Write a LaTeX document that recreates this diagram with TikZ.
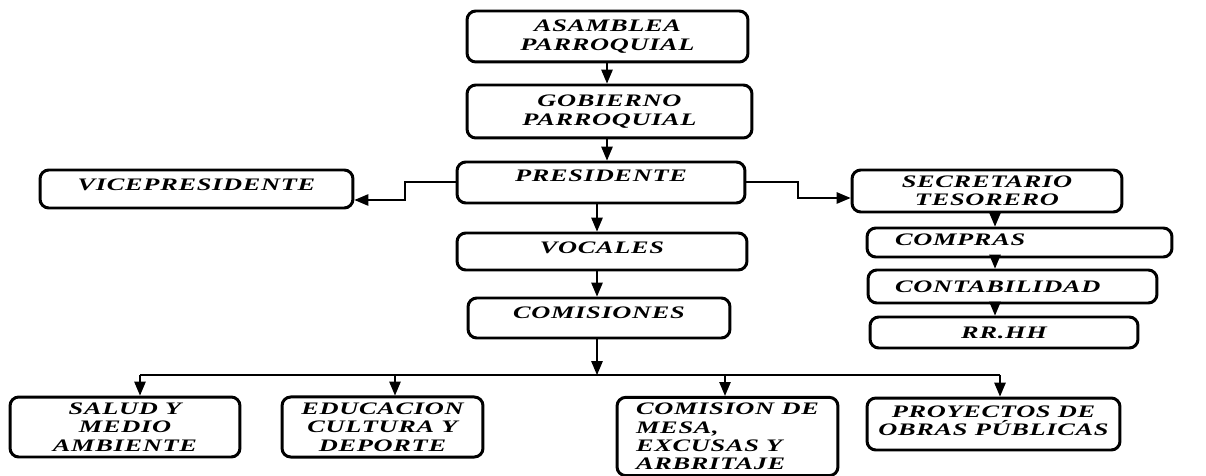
\documentclass[tikz,border=0pt]{standalone}
\usepackage{fontspec}
\setmainfont{Liberation Serif}
\newfontfamily\cajafont[FakeStretch=1.5,LetterSpace=4]{Liberation Serif}
\usetikzlibrary{arrows}

\tikzset{
	caja/.style={draw, line width=1.7pt, rounded corners=5pt, align=center,
		font=\cajafont\bfseries\itshape\fontsize{10}{10.4}\selectfont},
	flecha/.style={-triangle 45, line width=0.8pt},
	linea/.style={line width=0.8pt}
}

\begin{document}
\begin{tikzpicture}[x=0.02cm,y=-0.02cm]
	\useasboundingbox (0,0) rectangle (1206,476);
	\node[caja, minimum width=5.62cm, minimum height=1.02cm] (asamblea) at (607.5,36.5) {ASAMBLEA\\PARROQUIAL};
	\node[caja, minimum width=5.7cm, minimum height=1.06cm] (gobierno) at (609.5,111.5) {GOBIERNO\\PARROQUIAL};
	\node[caja, minimum width=5.76cm, minimum height=0.82cm, text depth=0.26cm] (presidente) at (601,182.5) {PRESIDENTE};
	\node[caja, minimum width=6.26cm, minimum height=0.76cm, text depth=0.16cm] (vice) at (196.5,189) {VICEPRESIDENTE};
	\node[caja, minimum width=5.4cm, minimum height=0.84cm] (secretario) at (987,191) {SECRETARIO\\TESORERO};
	\node[caja, align=left, minimum width=6.1cm, minimum height=0.58cm, inner xsep=0.56cm, text width=4.98cm, text depth=0.1cm] (compras) at (1019.5,242.5) {COMPRAS};
	\node[caja, align=left, minimum width=5.78cm, minimum height=0.66cm, inner xsep=0.54cm, text width=4.7cm] (contab) at (1012.5,286.5) {CONTABILIDAD};
	\node[caja, minimum width=5.36cm, minimum height=0.62cm] (rrhh) at (1004,332.5) {RR.HH};
	\node[caja, minimum width=5.8cm, minimum height=0.74cm, text depth=0.14cm] (vocales) at (602,251.5) {VOCALES};
	\node[caja, minimum width=5.24cm, minimum height=0.8cm, text depth=0.2cm] (comisiones) at (599,318) {COMISIONES};
	\node[caja, minimum width=4.6cm, minimum height=1.2cm] (salud) at (125,427) {SALUD Y\\MEDIO\\AMBIENTE};
	\node[caja, minimum width=4.02cm, minimum height=1.2cm] (educacion) at (382.5,427) {EDUCACION\\CULTURA Y\\DEPORTE};
	\node[caja, align=left, minimum width=4.42cm, minimum height=1.54cm] (mesa) at (727.5,436.5) {COMISION DE\\MESA,\\EXCUSAS Y\\ARBRITAJE};
	\node[caja, minimum width=5.06cm, minimum height=1.04cm, text depth=0.12cm] (proyectos) at (993.5,424) {PROYECTOS DE\\OBRAS PÚBLICAS};
	\coordinate (bus) at (597,375);
	\draw[flecha] (asamblea.south -| 607,0) -- (gobierno.north -| 607,0);
	\draw[flecha] (gobierno.south -| 607,0) -- (presidente.north -| 607,0);
	\draw[flecha] (presidente.south -| bus) -- (vocales.north -| bus);
	\draw[flecha] (vocales.south -| bus) -- (comisiones.north -| bus);
	\draw[flecha] (comisiones.south -| bus) -- (bus);
	\draw[flecha] (presidente.west |- 0,182) -- (405,182) -- (405,200) -- (vice.east |- 0,200);
	\draw[flecha] (presidente.east |- 0,182) -- (798,182) -- (798,198) -- (secretario.west |- 0,198);
	\draw[flecha] (secretario.south -| 995,0) -- (compras.north -| 995,0);
	\draw[flecha] (compras.south -| 995,0) -- (contab.north -| 995,0);
	\draw[flecha] (contab.south -| 995,0) -- (rrhh.north -| 995,0);
	\draw[linea] (140,375) -- (1000,375);
	\draw[flecha] (140,375) -- (salud.north -| 140,0);
	\draw[flecha] (395,375) -- (educacion.north -| 395,0);
	\draw[flecha] (725,375) -- (mesa.north -| 725,0);
	\draw[flecha] (1000,375) -- (proyectos.north -| 1000,0);
\end{tikzpicture}
\end{document}
